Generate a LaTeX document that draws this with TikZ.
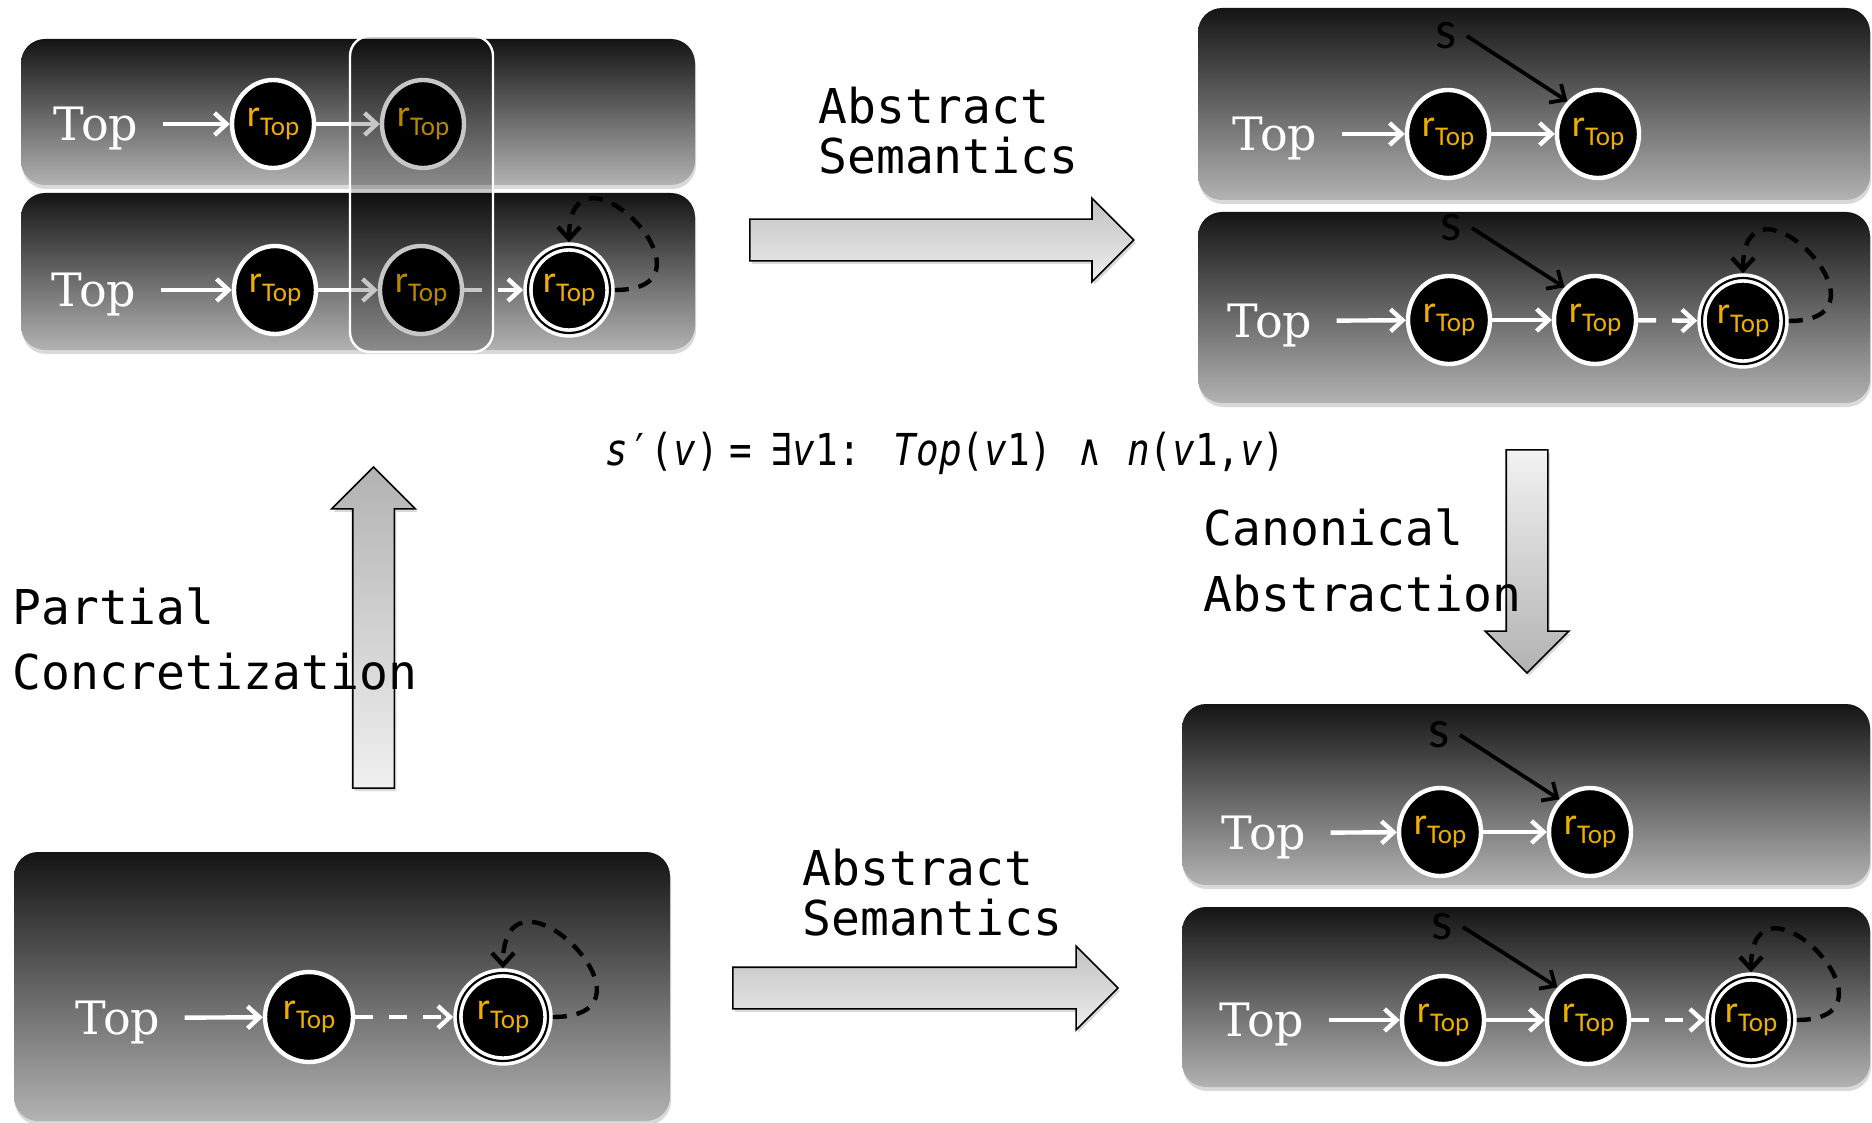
\documentclass[tikz,border=0pt]{standalone}
\usepackage{fontspec}
\setmainfont{DejaVu Serif}
\setmonofont{DejaVu Sans Mono}
\newfontfamily\calfont{Carlito}
\newfontfamily\formfont[FakeStretch=0.855]{DejaVu Sans Mono}
\usetikzlibrary{arrows.meta,positioning,shapes.geometric,shapes.arrows,shadows}
\definecolor{rgold}{RGB}{236,174,0}
\newcommand{\rtop}{{\calfont\color{rgold}\fontsize{19}{19}\selectfont r\raisebox{-4.5pt}{\fontsize{13.5}{13.5}\selectfont Top}}}

\begin{document}
\begin{tikzpicture}[x=0.5pt, y=-0.5pt,
  panel/.style={rectangle, rounded corners=12pt, top color=black!92, bottom color=black!30,
    drop shadow={opacity=0.3, shadow xshift=0.5pt, shadow yshift=-2pt}},
  toplbl/.style={text=white, font=\fontsize{23}{23}\selectfont, text depth=0pt, inner xsep=12pt, inner ysep=2pt},
  heap/.style={ellipse, fill=black, draw=white, line width=2.2pt, minimum width=41pt, minimum height=44pt, inner sep=0pt},
  sumheap/.style={heap, line width=1.8pt, double=black, double distance=1.1pt, minimum width=41pt, minimum height=43pt, outer sep=2.4pt},
  ptr/.style={draw=white, line width=2.2pt, -{Straight Barb[length=6pt,width=11pt]}},
  mayptr/.style={ptr, dash pattern=on 9pt off 8pt},
  svar/.style={font=\calfont\fontsize{27}{27}\selectfont, inner xsep=5pt, inner ysep=1pt},
  sptr/.style={draw=black, line width=1.9pt, -{Straight Barb[length=6pt,width=11pt]}},
  selfloop/.style={draw=black, line width=2.2pt, dash pattern=on 7pt off 5pt, -{Straight Barb[length=6pt,width=11pt]}, looseness=4.5},
  lbl/.style={font=\ttfamily\fontsize{24}{25}\selectfont, align=left, inner sep=0pt, anchor=north west},
  bigarrow/.style={single arrow, draw=black, line width=0.8pt, inner sep=10pt, single arrow head extend=10.5pt, minimum width=41pt,
    drop shadow={opacity=0.3, shadow xshift=1pt, shadow yshift=-1.5pt}},
  focus/.style={rectangle, rounded corners=10pt, draw=white, line width=1.2pt, fill=black, fill opacity=0.22, draw opacity=1}
]
\useasboundingbox (0,0) rectangle (1872,1123);

% panels
\node[panel, minimum width=337pt, minimum height=73pt] (pa1) at (358,112) {};
\node[panel, minimum width=337pt, minimum height=78.5pt] (pa2) at (358,271.5) {};
\node[panel, minimum width=336pt, minimum height=96pt] (pb1) at (1534,104) {};
\node[panel, minimum width=336pt, minimum height=95.5pt] (pb2) at (1534,307.5) {};
\node[panel, minimum width=328pt, minimum height=134.5pt] (pc) at (342,986.5) {};
\node[panel, minimum width=344pt, minimum height=90.5pt] (pd1) at (1526,794.5) {};
\node[panel, minimum width=344pt, minimum height=90pt] (pd2) at (1526,997) {};

% partial concretization (top left)
\node[toplbl] (ta1) at (96,124) {Top};
\node[heap] (a11) at (273,124) {\rtop};
\node[heap] (a12) at (423,124) {\rtop};
\draw[ptr] (ta1) -- (a11);
\draw[ptr] (a11) -- (a12);

\node[toplbl] (ta2) at (94,290) {Top};
\node[heap] (a21) at (275,290) {\rtop};
\node[heap] (a22) at (421,290) {\rtop};
\node[sumheap] (a23) at (569,290) {\rtop};
\draw[ptr] (ta2) -- (a21);
\draw[ptr] (a21) -- (a22);
\draw[mayptr] (a22) -- (a23);
\draw[selfloop] (a23.east) to[out=0,in=90] (a23.north);

\node[focus, minimum width=71.5pt, minimum height=158pt] (hl) at (421.5,194) {};

% abstract semantics result (top right)
\node[toplbl] (tb1) at (1275,134) {Top};
\node[heap] (b11) at (1448,134) {\rtop};
\node[heap] (b12) at (1598,134) {\rtop};
\node[svar] (sb1) at (1446,36) {s};
\draw[ptr] (tb1) -- (b11);
\draw[ptr] (b11) -- (b12);
\draw[sptr] (sb1.east) -- (b12.north west);

\node[toplbl] (tb2) at (1270,321) {Top};
\node[heap] (b21) at (1449,320) {\rtop};
\node[heap] (b22) at (1595,320) {\rtop};
\node[sumheap] (b23) at (1743,321) {\rtop};
\node[svar] (sb2) at (1451,228) {s};
\draw[ptr] (tb2) -- (b21);
\draw[ptr] (b21) -- (b22);
\draw[mayptr] (b22) -- (b23);
\draw[sptr] (sb2.east) -- (b22.north west);
\draw[selfloop] (b23.east) to[out=0,in=90] (b23.north);

% abstract input (bottom left)
\node[toplbl] (tc) at (118,1018) {Top};
\node[heap, minimum width=44pt, minimum height=45pt] (c1) at (309,1017) {\rtop};
\node[sumheap, minimum width=45pt, minimum height=44pt] (c2) at (503,1017) {\rtop};
\draw[ptr] (tc) -- (c1);
\draw[mayptr] (c1) -- (c2);
\draw[selfloop] (c2.east) to[out=0,in=90] (c2.north);

% canonical abstraction result (bottom right)
\node[toplbl] (td1) at (1264,833) {Top};
\node[heap] (d11) at (1440,832) {\rtop};
\node[heap] (d12) at (1590,832) {\rtop};
\node[svar] (sd1) at (1439,735) {s};
\draw[ptr] (td1) -- (d11);
\draw[ptr] (d11) -- (d12);
\draw[sptr] (sd1.east) -- (d12.north west);

\node[toplbl] (td2) at (1262,1020) {Top};
\node[heap] (d21) at (1443,1020) {\rtop};
\node[heap] (d22) at (1588,1020) {\rtop};
\node[sumheap] (d23) at (1751,1020) {\rtop};
\node[svar] (sd2) at (1442,927) {s};
\draw[ptr] (td2) -- (d21);
\draw[ptr] (d21) -- (d22);
\draw[mayptr] (d22) -- (d23);
\draw[sptr] (sd2.east) -- (d22.north west);
\draw[selfloop] (d23.east) to[out=0,in=90] (d23.north);

% block arrows
\node[bigarrow, minimum height=192pt, top color=black!24, bottom color=black!7] (semA) at (931.4,240) {};
\node[bigarrow, minimum height=192.5pt, top color=black!24, bottom color=black!7] (semC) at (915,988) {};
\node[bigarrow, shape border rotate=90, minimum height=160.5pt, top color=black!30, bottom color=black!6] (conc) at (373.5,638) {};
\node[bigarrow, shape border rotate=270, minimum height=111.5pt, top color=black!5, bottom color=black!30] (canon) at (1527,551) {};

% labels
\node[lbl] (lsemA) at (818,87) {Abstract\\Semantics};
\node[lbl] (lsemC) at (802,849) {Abstract\\Semantics};
\node[lbl, font=\ttfamily\fontsize{24}{33}\selectfont] (lcanon) at (1203,508) {Canonical\\Abstraction};
\node[lbl, font=\ttfamily\fontsize{24}{32.5}\selectfont] (lconc) at (12,587) {Partial\\Concretization};

% instrumentation predicate
\node[anchor=base west, inner sep=0pt, font=\formfont\fontsize{22}{22}\selectfont] (form) at (605,465)
  {\textit{s}′(\textit{v})\hspace*{5.5pt}=\hspace*{9pt}∃\textit{v}1:\hspace*{16.5pt}\textit{Top}(\textit{v}1)\hspace*{13pt}∧\hspace*{13pt}\textit{n}(\textit{v}1,\textit{v})};

\end{tikzpicture}
\end{document}
